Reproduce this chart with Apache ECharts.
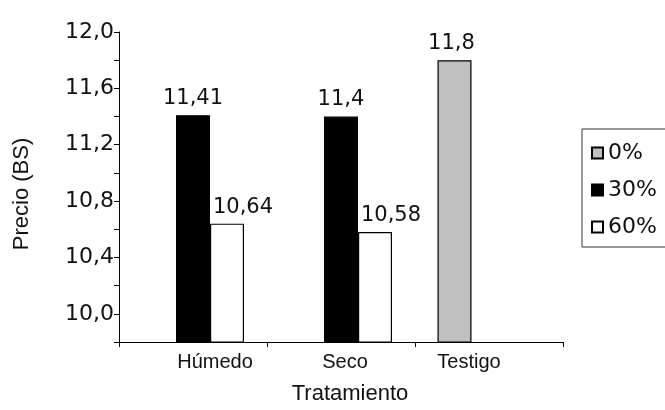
<!DOCTYPE html>
<html>
<head>
<meta charset="utf-8">
<script src="https://cdn.jsdelivr.net/npm/echarts@6/dist/echarts.min.js"></script>
<style>html,body{margin:0;padding:0;background:#fff}#c{width:665px;height:410px}</style>
</head>
<body>
<div id="c"></div>
<script>
const categories = ['Húmedo', 'Seco', 'Testigo'];
const seriesNames = ['0%', '30%', '60%'];
const values0 = [null, null, 11.8];
const values30 = [11.41, 11.4, null];
const values60 = [10.64, 10.58, null];
const yMin = 9.8, yMax = 12.0, yStep = 0.2;

const numFont = 'DejaVu Sans';
const wordFont = 'Liberation Sans, Arial, sans-serif';
const fmt = v => String(v).replace('.', ',');
const border = { borderColor: '#000', borderWidth: 1.2 };
const lbl = (offset) => ({
  show: true, position: 'top', distance: 6, offset: offset,
  color: '#111', fontFamily: numFont, fontSize: 21,
  formatter: p => (p.value == null ? '' : fmt(p.value))
});
const shifts = [44, 8, -40];
const rich = {};
shifts.forEach((s, i) => {
  rich['c' + i] = { fontFamily: wordFont, fontSize: 20, color: '#111',
    padding: s >= 0 ? [0, 0, 0, s] : [0, -s, 0, 0] };
});

const chart = echarts.init(document.getElementById('c'), null, { renderer: 'canvas' });
chart.setOption({
  backgroundColor: '#fff',
  animation: false,
  grid: { left: 119, right: 102, top: 32, bottom: 68, containLabel: false },
  legend: {
    data: seriesNames,
    orient: 'vertical',
    left: 582, top: 129,
    padding: [13, 30, 9, 9],
    itemGap: 15,
    itemWidth: 11, itemHeight: 11,
    icon: 'rect',
    borderColor: '#333', borderWidth: 1,
    textStyle: { fontFamily: numFont, fontSize: 22, color: '#111' }
  },
  xAxis: [{
    type: 'category',
    data: categories,
    axisLine: { lineStyle: { color: '#000', width: 1 } },
    axisTick: { show: true, length: 5, lineStyle: { color: '#000' } },
    axisLabel: { margin: 10, formatter: (v) => '{c' + categories.indexOf(v) + '|' + v + '}', rich: rich },
    name: 'Tratamiento',
    nameLocation: 'middle',
    nameGap: 41,
    nameTextStyle: { fontFamily: wordFont, fontSize: 22, color: '#111', padding: [0, 0, 0, 18] }
  }, {
    type: 'category',
    data: categories,
    show: false
  }],
  yAxis: {
    type: 'value',
    min: yMin, max: yMax, interval: yStep,
    axisLine: { show: true, lineStyle: { color: '#000', width: 1 } },
    axisTick: { show: true, length: 5, lineStyle: { color: '#000' } },
    splitLine: { show: false },
    axisLabel: {
      margin: 5, color: '#111', fontFamily: numFont, fontSize: 22,
      formatter: v => {
        const k = Math.round((v - 10) / yStep);
        return (k >= 0 && k % 2 === 0) ? v.toFixed(1).replace('.', ',') : '';
      }
    },
    name: 'Precio (BS)',
    nameLocation: 'middle',
    nameRotate: 90,
    nameGap: 86,
    nameTextStyle: { fontFamily: wordFont, fontSize: 22, color: '#111', padding: [0, 14, 0, 0] }
  },
  series: [
    { name: seriesNames[0], type: 'bar', xAxisIndex: 0, data: [], barWidth: 34, barGap: '0%',
      itemStyle: Object.assign({ color: '#c0c0c0' }, border) },
    { name: seriesNames[1], type: 'bar', xAxisIndex: 0, data: values30, barWidth: 34, barGap: '0%',
      itemStyle: Object.assign({ color: '#000' }, border), label: lbl([0, 0]) },
    { name: seriesNames[2], type: 'bar', xAxisIndex: 0, data: values60, barWidth: 34, barGap: '0%',
      itemStyle: Object.assign({ color: '#fff' }, border), label: lbl([16, 0]) },
    { name: seriesNames[0], type: 'bar', xAxisIndex: 1, data: values0, barWidth: 34, barGap: '0%',
      itemStyle: Object.assign({ color: '#c0c0c0' }, border), label: lbl([-3, 0]) },
    { name: 'pad', type: 'bar', xAxisIndex: 1, data: [], barWidth: 69, barGap: '0%' }
  ]
});
</script>
</body>
</html>
